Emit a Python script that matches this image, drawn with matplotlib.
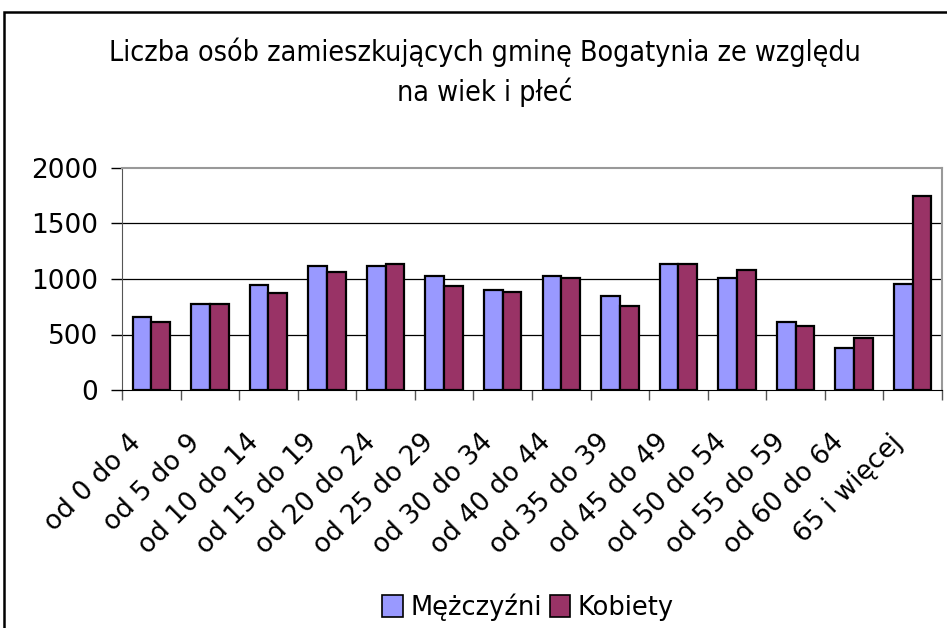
import numpy as np
import matplotlib.pyplot as plt
from matplotlib.patches import Rectangle, Patch
from matplotlib.transforms import ScaledTranslation

plt.rcParams['font.family'] = ['DejaVu Sans']

# Grupy wiekowe (kolejność jak na oryginalnym wykresie)
kategorie = ["od 0 do 4", "od 5 do 9", "od 10 do 14", "od 15 do 19",
             "od 20 do 24", "od 25 do 29", "od 30 do 34", "od 40 do 44",
             "od 35 do 39", "od 45 do 49", "od 50 do 54", "od 55 do 59",
             "od 60 do 64", "65 i więcej"]
mezczyzni = [662, 773, 950, 1116, 1116, 1023, 899, 1023, 848, 1134, 1008, 614, 376, 953]
kobiety = [610, 773, 878, 1059, 1134, 935, 881, 1008, 758, 1134, 1080, 577, 466, 1747]
y_ticks = [0, 500, 1000, 1500, 2000]

kolor_m = '#9999FF'
kolor_k = '#993366'

fig = plt.figure(figsize=(9.47, 6.28), dpi=100)
W, H = 947, 628

# ramka wykresu (przycięta z prawej i z dołu)
fig.patches.append(Rectangle((4 / W, -0.1), 1.2, 1 - 12 / H + 0.1,
                             transform=fig.transFigure, fill=False,
                             edgecolor='black', linewidth=1.8))

ax = fig.add_axes([122 / W, 1 - 390 / H, (942 - 122) / W, (390 - 168) / H])

x = np.arange(len(kategorie)) + 0.5
szer = 0.32
ax.bar(x - szer / 2, mezczyzni, szer, color=kolor_m, edgecolor='black',
       linewidth=1.6, zorder=3)
ax.bar(x + szer / 2, kobiety, szer, color=kolor_k, edgecolor='black',
       linewidth=1.6, zorder=3)

ax.set_xlim(0, len(kategorie))
ax.set_ylim(0, 2000)
ax.set_yticks(y_ticks)
for v in y_ticks[1:-1]:
    ax.axhline(v, color='black', linewidth=0.9, zorder=1)

ax.set_xticks(np.arange(len(kategorie) + 1))
ax.set_xticklabels([])
ax.set_xticks(x, minor=True)
ax.set_xticklabels(kategorie, minor=True, rotation=45, ha='right',
                   va='center', rotation_mode='anchor', fontsize=19)
ax.tick_params(axis='x', which='minor', length=0, pad=35)
ax.tick_params(axis='x', which='major', length=7, width=1, color='#555555',
               direction='out')
ax.tick_params(axis='y', length=8, width=1, color='black', pad=9,
               labelsize=19)

# przesunięcie etykiet w lewo, jak w oryginale
przes = ScaledTranslation(-0.14, 0, fig.dpi_scale_trans)
for lab in ax.get_xticklabels(minor=True):
    lab.set_transform(lab.get_transform() + przes)

for s in ['top', 'right']:
    ax.spines[s].set_color('#999999')
    ax.spines[s].set_linewidth(1.5)
ax.spines['left'].set_color('#555555')
ax.spines['bottom'].set_color('black')

fig.text(0.512, 0.885, "Liczba osób zamieszkujących gminę Bogatynia ze względu\nna wiek i płeć",
         ha='center', va='center', fontsize=20.5, fontstretch='condensed',
         linespacing=1.45)

uchwyty = [Patch(facecolor=kolor_m, edgecolor='black', linewidth=1.2),
           Patch(facecolor=kolor_k, edgecolor='black', linewidth=1.2)]
fig.legend(uchwyty, ["Mężczyźni", "Kobiety"], loc='center',
           bbox_to_anchor=(528 / W, 1 - 607 / H), ncol=2, frameon=False,
           fontsize=18.5, handlelength=0.8, handleheight=0.9,
           handletextpad=0.3, columnspacing=0.3)

fig.savefig('out.png', dpi=100)
